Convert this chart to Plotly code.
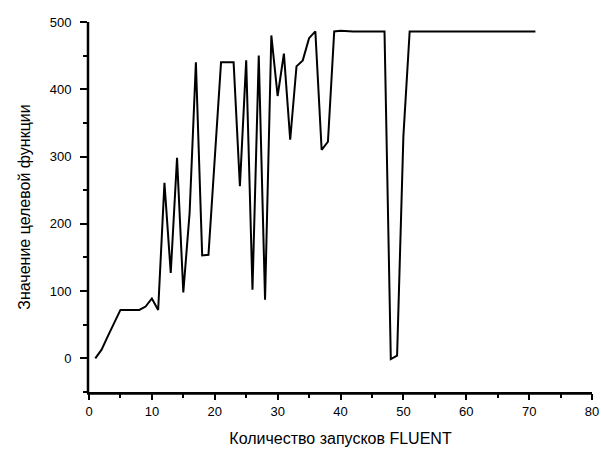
import plotly.graph_objects as go

runs = list(range(1, 72))
values = [
    0, 13, 33, 52, 72, 72, 72, 72, 77, 89,        # 1-10
    72, 261, 127, 298, 98, 216, 440, 153, 154, 297,  # 11-20
    440, 440, 440, 256, 443, 102, 450, 87, 480, 390,  # 21-30
    453, 325, 434, 443, 476, 486, 310, 322, 486, 487,  # 31-40
    486, 486, 486, 486, 486, 486, 486, -1, 4, 330,     # 41-50
    486, 486, 486, 486, 486, 486, 486, 486, 486, 486,  # 51-60
    486, 486, 486, 486, 486, 486, 486, 486, 486, 486,  # 61-70
    486,                                              # 71
]

x_title = "Количество запусков FLUENT"
y_title = "Значение целевой функции"

FONT = "Liberation Sans, Arial, sans-serif"

fig = go.Figure()
fig.add_trace(go.Scatter(
    x=runs, y=values, mode="lines",
    line=dict(color="black", width=2),
    showlegend=False,
))

fig.update_layout(
    width=601, height=450,
    margin=dict(l=89, r=9, t=22, b=58),
    paper_bgcolor="white", plot_bgcolor="white",
    font=dict(family=FONT, color="black"),
    shapes=[
        dict(type="line", xref="paper", yref="paper", x0=-0.004, x1=1, y0=-0.004, y1=-0.004,
             line=dict(color="black", width=2.5), layer="above"),
        dict(type="line", xref="paper", yref="paper", x0=-0.002, x1=-0.002, y0=-0.004, y1=1,
             line=dict(color="black", width=2.5), layer="above"),
    ],
)
fig.update_xaxes(
    range=[0, 80], dtick=10, tick0=0, automargin=False,
    showline=True, linecolor="#000000", linewidth=2,
    ticks="outside", ticklen=6, tickwidth=2, tickcolor="#000000",
    minor=dict(dtick=5, ticks="outside", ticklen=4, tickwidth=2, tickcolor="#000000"),
    showgrid=False, zeroline=False,
    tickfont=dict(size=13, family=FONT),
    title=dict(text=x_title, font=dict(size=16, family=FONT)),
)
fig.update_yaxes(
    range=[-50, 500], dtick=100, tick0=0, automargin=False,
    showline=True, linecolor="#000000", linewidth=2,
    ticks="outside", ticklen=7, tickwidth=2, tickcolor="#000000",
    minor=dict(dtick=50, ticks="outside", ticklen=4, tickwidth=2, tickcolor="#000000"),
    showgrid=False, zeroline=False,
    tickfont=dict(size=13, family=FONT),
    ticklabelstandoff=6,
    title=dict(text=y_title, font=dict(size=16, family=FONT)),
)

fig.write_html(
    "out.html",
    config={"displayModeBar": False, "staticPlot": True},
    post_script="document.body.style.margin='0';document.body.style.padding='0';",
)
